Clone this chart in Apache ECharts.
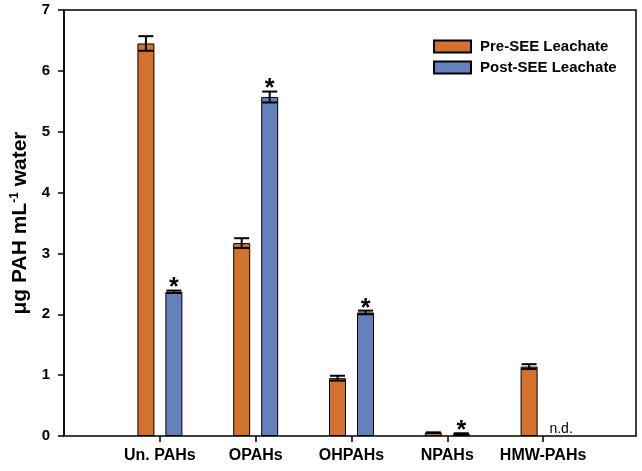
<!DOCTYPE html>
<html>
<head>
<meta charset="utf-8">
<script src="https://cdn.jsdelivr.net/npm/echarts@6/dist/echarts.min.js"></script>
<style>html,body{margin:0;padding:0;background:#fff;}#chart{width:642px;height:471px;}</style>
</head>
<body>
<div id="chart"></div>
<script>
const categories = ['Un. PAHs', 'OPAHs', 'OHPAHs', 'NPAHs', 'HMW-PAHs'];
const preValues = [6.45, 3.17, 0.95, 0.055, 1.14];
const preErrors = [0.12, 0.08, 0.04, 0.005, 0.04];
const postValues = [2.37, 5.57, 2.03, 0.035, null];
const postErrors = [0.02, 0.09, 0.03, 0.01, null];
const postSignificant = [true, true, true, true, false];
const seriesNames = ['Pre-SEE Leachate', 'Post-SEE Leachate'];
const yMin = 0, yMax = 7, yInterval = 1;

const FONT = 'Liberation Sans, Arial, Helvetica, sans-serif';
const BAR_W = 17, BAR_GAP = 11;
const OFFSET = (BAR_W + BAR_GAP) / 2;
const COLORS = ['#D3722E', '#6581BB'];

function errorRender(offsetSign) {
  return function (params, api) {
    const idx = api.value(0), v = api.value(1), e = api.value(2);
    const top = api.coord([idx, v + e]);
    const bot = api.coord([idx, Math.max(0, v - e)]);
    const x = top[0] + offsetSign * OFFSET;
    const cw = 7.5;
    const st = { stroke: '#000', lineWidth: 2 };
    return {
      type: 'group',
      children: [
        { type: 'line', shape: { x1: x, y1: top[1], x2: x, y2: bot[1] }, style: st },
        { type: 'line', shape: { x1: x - cw, y1: top[1], x2: x + cw, y2: top[1] }, style: st },
        { type: 'line', shape: { x1: x - cw, y1: bot[1], x2: x + cw, y2: bot[1] }, style: st }
      ]
    };
  };
}

const preErrData = categories.map((c, i) => [i, preValues[i], preErrors[i]]);
const postErrData = categories.map((c, i) => [i, postValues[i], postErrors[i]]).filter(d => d[1] != null);
const starData = categories.map((c, i) => [i, (postValues[i] || 0) + (postErrors[i] || 0), postSignificant[i] ? 1 : 0]).filter(d => d[2] === 1);
const ndData = categories.map((c, i) => [i, 0]).filter(d => postValues[d[0]] == null);

const chart = echarts.init(document.getElementById('chart'), null, { renderer: 'canvas' });
chart.setOption({
  animation: false,
  backgroundColor: '#fff',
  textStyle: { fontFamily: FONT },
  grid: [
    { left: 64, right: 6, top: 10, bottom: 35, show: true, borderColor: '#000', borderWidth: 1.5, backgroundColor: 'transparent' },
    { left: 112, right: 51, top: 10, bottom: 35 }
  ],
  legend: {
    orient: 'vertical', left: 428, top: 34, itemWidth: 37, itemHeight: 12, itemGap: 6,
    icon: 'rect',
    data: seriesNames,
    textStyle: { fontFamily: FONT, fontWeight: 'bold', fontSize: 15, color: '#000', padding: [0, 0, 0, 4] }
  },
  xAxis: [
    { gridIndex: 0, type: 'value', min: 0, max: 1, show: false },
    {
      gridIndex: 1, type: 'category', data: categories,
      axisLine: { show: false },
      axisTick: { show: true, alignWithLabel: true, length: 6, lineStyle: { color: '#000', width: 1.5 } },
      axisLabel: { color: '#000', fontWeight: 'bold', fontSize: 16, fontFamily: FONT, margin: 12, interval: 0 },
      splitLine: { show: false }
    }
  ],
  yAxis: [
    {
      gridIndex: 0, type: 'value', min: yMin, max: yMax, interval: yInterval,
      axisLine: { show: true, lineStyle: { color: '#000', width: 1.5 } },
      axisTick: { show: true, length: 6, lineStyle: { color: '#000', width: 1.5 } },
      axisLabel: { color: '#000', fontWeight: 'bold', fontSize: 15, fontFamily: FONT, margin: 14 },
      splitLine: { show: false },
      name: '{a|μg PAH mL}{s|-1}{a| water}',
      nameLocation: 'middle', nameGap: 25, nameRotate: 90,
      nameTextStyle: {
        rich: {
          a: { fontSize: 21, fontWeight: 'bold', color: '#000', fontFamily: FONT, lineHeight: 24 },
          s: { fontSize: 12, fontWeight: 'bold', color: '#000', fontFamily: FONT, lineHeight: 24, verticalAlign: 'top', padding: [0, 0, 9, 0] }
        }
      }
    },
    { gridIndex: 1, type: 'value', min: yMin, max: yMax, interval: yInterval, show: false }
  ],
  series: [
    {
      name: seriesNames[0], type: 'bar', xAxisIndex: 1, yAxisIndex: 1, data: preValues,
      barWidth: BAR_W, barGap: (BAR_GAP / BAR_W * 100) + '%',
      itemStyle: { color: COLORS[0], borderColor: '#000', borderWidth: 1 }
    },
    {
      name: seriesNames[1], type: 'bar', xAxisIndex: 1, yAxisIndex: 1, data: postValues,
      barWidth: BAR_W, barGap: (BAR_GAP / BAR_W * 100) + '%',
      itemStyle: { color: COLORS[1], borderColor: '#000', borderWidth: 1 }
    },
    { type: 'custom', xAxisIndex: 1, yAxisIndex: 1, data: preErrData, renderItem: errorRender(-1), z: 5, silent: true },
    { type: 'custom', xAxisIndex: 1, yAxisIndex: 1, data: postErrData, renderItem: errorRender(1), z: 5, silent: true },
    {
      type: 'custom', xAxisIndex: 1, yAxisIndex: 1, data: starData, z: 6, silent: true,
      renderItem: function (params, api) {
        const p = api.coord([api.value(0), api.value(1)]);
        return { type: 'text', style: { text: '*', x: p[0] + OFFSET, y: p[1] - 2, align: 'center', verticalAlign: 'middle', font: 'bold 25px ' + FONT, fill: '#000' } };
      }
    },
    {
      type: 'custom', xAxisIndex: 1, yAxisIndex: 1, data: ndData, z: 6, silent: true,
      renderItem: function (params, api) {
        const p = api.coord([api.value(0), api.value(1)]);
        return { type: 'text', style: { text: 'n.d.', x: p[0] + OFFSET + 4, y: p[1] - 7, align: 'center', verticalAlign: 'middle', font: '14px ' + FONT, fill: '#000' } };
      }
    }
  ]
});
</script>
</body>
</html>
